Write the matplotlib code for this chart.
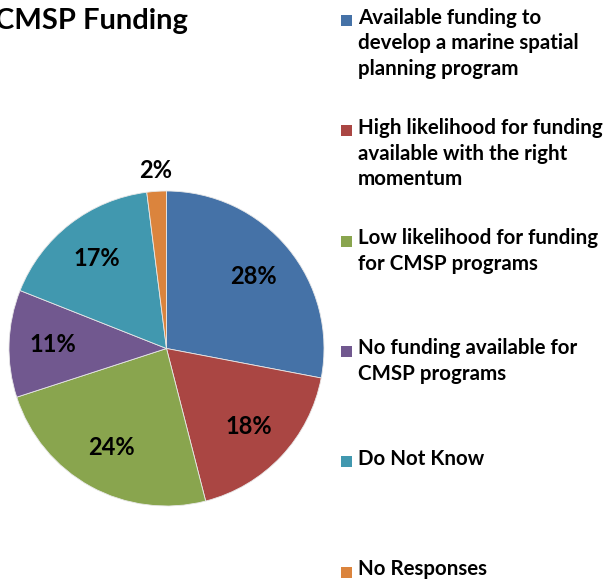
import numpy as np
import matplotlib.pyplot as plt
from matplotlib.patches import Rectangle

plt.rcParams['font.family'] = ['Lato', 'DejaVu Sans']

# Data
categories = ['Available funding to\ndevelop a marine spatial\nplanning program',
              'High likelihood for funding\navailable with the right\nmomentum',
              'Low likelihood for funding\nfor CMSP programs',
              'No funding available for\nCMSP programs',
              'Do Not Know',
              'No Responses']
shares = [28, 18, 24, 11, 17, 2]
colors = ['#4572A7', '#AA4643', '#89A54E', '#71588F', '#4198AF', '#DB843D']

W, H = 603, 582
fig = plt.figure(figsize=(W / 100, H / 100), dpi=100)

# pie axes: centre (166.5, 348.5) px, radius 157.5 px
cx, cy, r = 166.5, 348.5, 157.5
ax = fig.add_axes([(cx - r) / W, (H - cy - r) / H, 2 * r / W, 2 * r / H])
wedges, _ = ax.pie(shares, colors=colors, startangle=90, counterclock=False,
                   radius=1.0, wedgeprops=dict(edgecolor='#e8e8e8', linewidth=0.6))
ax.set_xlim(-1, 1)
ax.set_ylim(-1, 1)
ax.set_aspect('equal')
ax.axis('off')

# percentage labels
for w, v in zip(wedges, shares):
    mid = np.deg2rad((w.theta1 + w.theta2) / 2)
    d = 0.72 if v > 5 else 1.13
    ax.text(d * np.cos(mid), d * np.sin(mid), f'{v}%', ha='center', va='center',
            fontsize=17, fontweight='bold', color='black', clip_on=False)

# title (left part cut off in the original)
fig.text(-5 / W, 1 - 29 / H, 'CMSP Funding', fontsize=21, fontweight='bold',
         ha='left', va='baseline')

# legend, drawn by hand: square aligned with first line of each entry
top, step = 20.5, 110.3
for i, (lab, c) in enumerate(zip(categories, colors)):
    y = top + i * step
    fig.patches.append(Rectangle((341 / W, 1 - (y + 5.5) / H), 11 / W, 11 / H,
                                 transform=fig.transFigure, facecolor=c,
                                 edgecolor='none'))
    fig.text(358 / W, 1 - (y - 13) / H, lab, fontsize=14.8, fontweight='bold',
             ha='left', va='top', linespacing=1.36)

fig.savefig('out.png', dpi=100)
